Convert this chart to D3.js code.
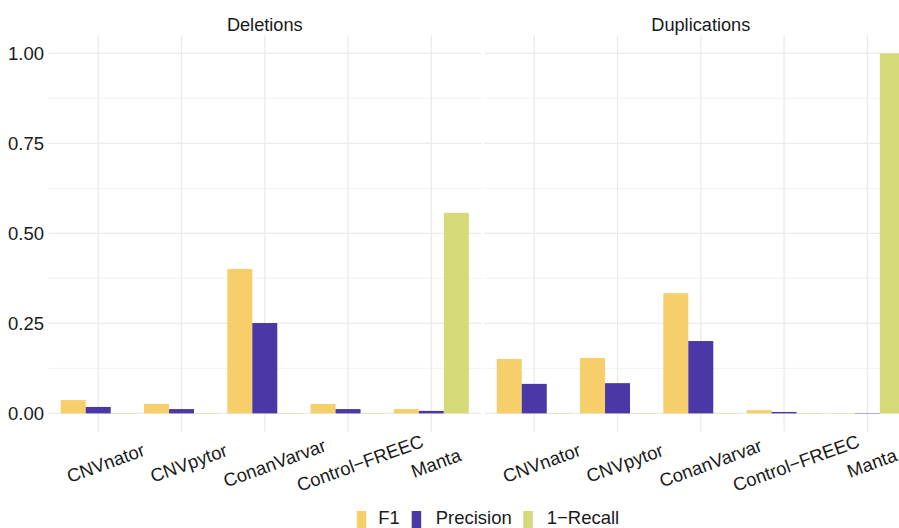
<!DOCTYPE html>
<html>
<head>
<meta charset="utf-8">
<script src="https://cdn.jsdelivr.net/npm/d3@7"></script>
<style>
  html, body { margin: 0; padding: 0; background: #fff; }
  svg text { font-family: "Liberation Sans", Arial, Helvetica, sans-serif; fill: #1a1a1a; }
</style>
</head>
<body>
<svg id="chart" width="899" height="528"></svg>
<script>
// Callers and metrics
const tools = ["CNVnator", "CNVpytor", "ConanVarvar", "Control\u2212FREEC", "Manta"];
const metrics = ["F1", "Precision", "1\u2212Recall"];
const panels = ["Deletions", "Duplications"];

// Metric values per caller (order follows `tools`)
const delF1        = [0.037, 0.026, 0.401, 0.026, 0.012];
const delPrecision = [0.018, 0.012, 0.251, 0.012, 0.007];
const delOneMinusRecall = [0.001, 0.001, 0.001, 0.001, 0.557];

const dupF1        = [0.151, 0.154, 0.334, 0.009, 0.001];
const dupPrecision = [0.082, 0.084, 0.201, 0.004, 0.001];
const dupOneMinusRecall = [0.001, 0.001, 0.001, 0.001, 1.0];

const yTicks = [0, 0.25, 0.5, 0.75, 1.0];
const yMinor = [0.125, 0.375, 0.625, 0.875];

const colors = { "F1": "#F6CF6B", "Precision": "#4B37A6", "1\u2212Recall": "#D5D978" };

const seriesByPanel = {
  "Deletions":    [delF1, delPrecision, delOneMinusRecall],
  "Duplications": [dupF1, dupPrecision, dupOneMinusRecall]
};

const svg = d3.select("#chart");

const panelTop = 35.4, panelBottom = 431.4;
const panelWidth = 433, panelGap = 3, panelLeft = 48.3;

const y = d3.scaleLinear().domain([-0.05, 1.05]).range([panelBottom, panelTop]);

// Y axis tick labels
svg.append("g").selectAll("text").data(yTicks).join("text")
  .attr("x", 44).attr("y", d => y(d)).attr("dy", "0.36em")
  .attr("text-anchor", "end").style("font-size", "18.5px")
  .text(d => d3.format(".2f")(d));

panels.forEach((name, pi) => {
  const x0 = panelLeft + pi * (panelWidth + panelGap);
  const x1 = x0 + panelWidth;
  const x = d3.scalePoint().domain(tools).range([x0, x1]).padding(0.6);
  const step = x.step();
  const dodge = d3.scaleBand().domain(metrics).range([-0.45 * step, 0.45 * step]);

  const g = svg.append("g");

  // minor grid
  g.selectAll("line.minor").data(yMinor).join("line")
    .attr("x1", x0).attr("x2", x1).attr("y1", d => y(d)).attr("y2", d => y(d))
    .attr("stroke", "#F0F0F0").attr("stroke-width", 0.9);
  // major grid
  g.selectAll("line.major").data(yTicks).join("line")
    .attr("x1", x0).attr("x2", x1).attr("y1", d => y(d)).attr("y2", d => y(d))
    .attr("stroke", "#EBEBEB").attr("stroke-width", 1.3);
  g.selectAll("line.vert").data(tools).join("line")
    .attr("x1", d => x(d)).attr("x2", d => x(d))
    .attr("y1", panelTop).attr("y2", panelBottom)
    .attr("stroke", "#EBEBEB").attr("stroke-width", 1.3);

  // bars
  const rows = [];
  seriesByPanel[name].forEach((vals, mi) => {
    vals.forEach((v, ti) => rows.push({ tool: tools[ti], metric: metrics[mi], value: v }));
  });
  g.selectAll("rect").data(rows).join("rect")
    .attr("x", d => x(d.tool) + dodge(d.metric))
    .attr("width", dodge.bandwidth())
    .attr("y", d => y(d.value))
    .attr("height", d => y(0) - y(d.value))
    .attr("fill", d => colors[d.metric]);

  // strip title
  svg.append("text")
    .attr("x", (x0 + x1) / 2).attr("y", 31)
    .attr("text-anchor", "middle").style("font-size", "18.2px")
    .text(name);

  // rotated category labels
  const lab = svg.append("g").selectAll("text").data(tools).join("text")
    .attr("text-anchor", "middle").attr("dominant-baseline", "central")
    .style("font-size", "18.5px")
    .text(d => d);
  lab.each(function(d) {
    const L = this.getComputedTextLength();
    const cx = x(d) + 0.09 * L, cy = 463;
    d3.select(this).attr("transform", `translate(${cx},${cy}) rotate(-20)`);
  });
});

// Legend
const legendItems = [
  { key: "F1", kx: 356.7, tx: 378.3 },
  { key: "Precision", kx: 411.7, tx: 435.7 },
  { key: "1\u2212Recall", kx: 523.3, tx: 546.7 }
];
const lg = svg.append("g");
lg.selectAll("rect").data(legendItems).join("rect")
  .attr("x", d => d.kx).attr("y", 511).attr("width", 9.5).attr("height", 17)
  .attr("fill", d => colors[d.key]);
lg.selectAll("text").data(legendItems).join("text")
  .attr("x", d => d.tx).attr("y", 524)
  .style("font-size", "18.5px")
  .text(d => d.key);
</script>
</body>
</html>
